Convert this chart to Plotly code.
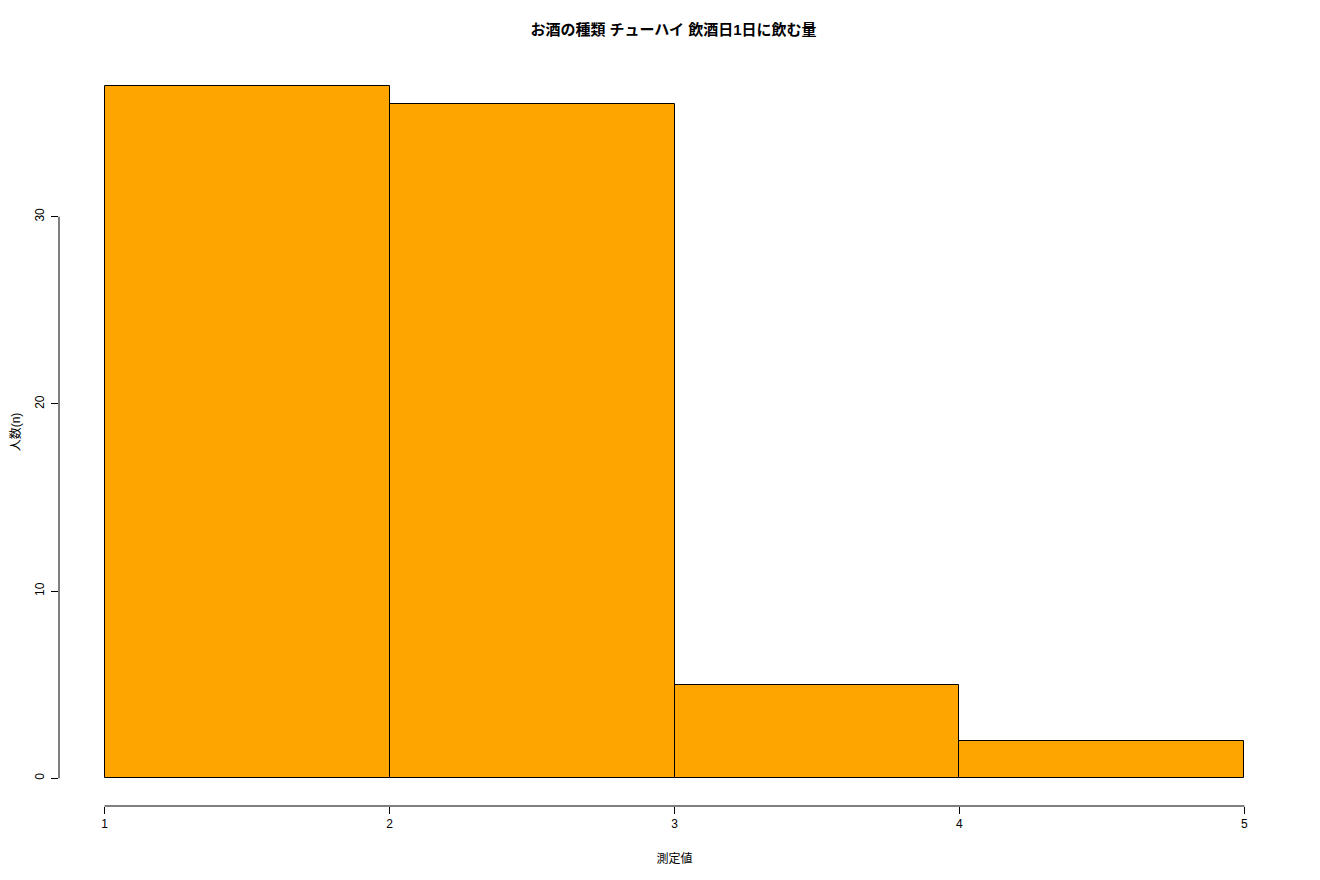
import plotly.graph_objects as go

# histogram data
bin_edges = [1, 2, 3, 4, 5]
counts = [37, 36, 5, 2]
y_ticks = [0, 10, 20, 30]

title_text = "お酒の種類 チューハイ 飲酒日1日に飲む量"
x_title = "測定値"
y_title = "人数(n)"

FONT = "Liberation Sans, Noto Sans CJK JP, sans-serif"

# page has an 8px body margin, so the figure is a bit smaller than the window
W, H = 1312, 872

mids = [(a + b) / 2 for a, b in zip(bin_edges[:-1], bin_edges[1:])]
widths = [b - a for a, b in zip(bin_edges[:-1], bin_edges[1:])]

# R-style 4% padding on the ranges
x_pad = (bin_edges[-1] - bin_edges[0]) * 0.04
y_pad = max(counts) * 0.04

fig = go.Figure(
    go.Bar(
        x=mids,
        y=counts,
        width=widths,
        marker=dict(color="#FFA500", line=dict(color="#000000", width=1)),
        hoverinfo="x+y",
    )
)

fig.update_layout(
    template="none",
    width=W,
    height=H,
    paper_bgcolor="white",
    plot_bgcolor="white",
    showlegend=False,
    margin=dict(l=51, r=30, t=50, b=74, pad=0),
    font=dict(family=FONT, size=12, color="#000000"),
    title=dict(
        text="<b>" + title_text + "</b>",
        x=(51 + W - 30) / 2 / W - 1 / W,
        xanchor="center",
        y=1 - 22 / H,
        yanchor="middle",
        font=dict(size=15),
    ),
    bargap=0,
)

fig.update_xaxes(
    range=[bin_edges[0] - x_pad, bin_edges[-1] + x_pad],
    tickmode="array",
    tickvals=bin_edges,
    ticktext=[str(v) for v in bin_edges],
    ticks="outside",
    ticklen=7,
    tickcolor="#000000",
    showline=False,
    showgrid=False,
    zeroline=False,
    tickfont=dict(size=12),
    title=dict(text=x_title, font=dict(size=12), standoff=24),
)

fig.update_yaxes(
    range=[-y_pad, max(counts) + y_pad],
    tickmode="array",
    tickvals=y_ticks,
    ticktext=[str(v) for v in y_ticks],
    ticks="outside",
    ticklen=7,
    ticklabelstandoff=2,
    tickcolor="#000000",
    tickangle=-90,
    showline=False,
    showgrid=False,
    zeroline=False,
    tickfont=dict(size=12),
    title=dict(text=y_title, font=dict(size=12), standoff=16),
)

# detached R-style axis lines spanning first to last tick
fig.add_shape(
    type="line", xref="x", yref="paper",
    x0=bin_edges[0], x1=bin_edges[-1], y0=0, y1=0,
    line=dict(color="#000000", width=1),
)
fig.add_shape(
    type="line", xref="paper", yref="y",
    x0=0, x1=0, y0=y_ticks[0], y1=y_ticks[-1],
    line=dict(color="#000000", width=1),
)

fig.write_html("out.html")
